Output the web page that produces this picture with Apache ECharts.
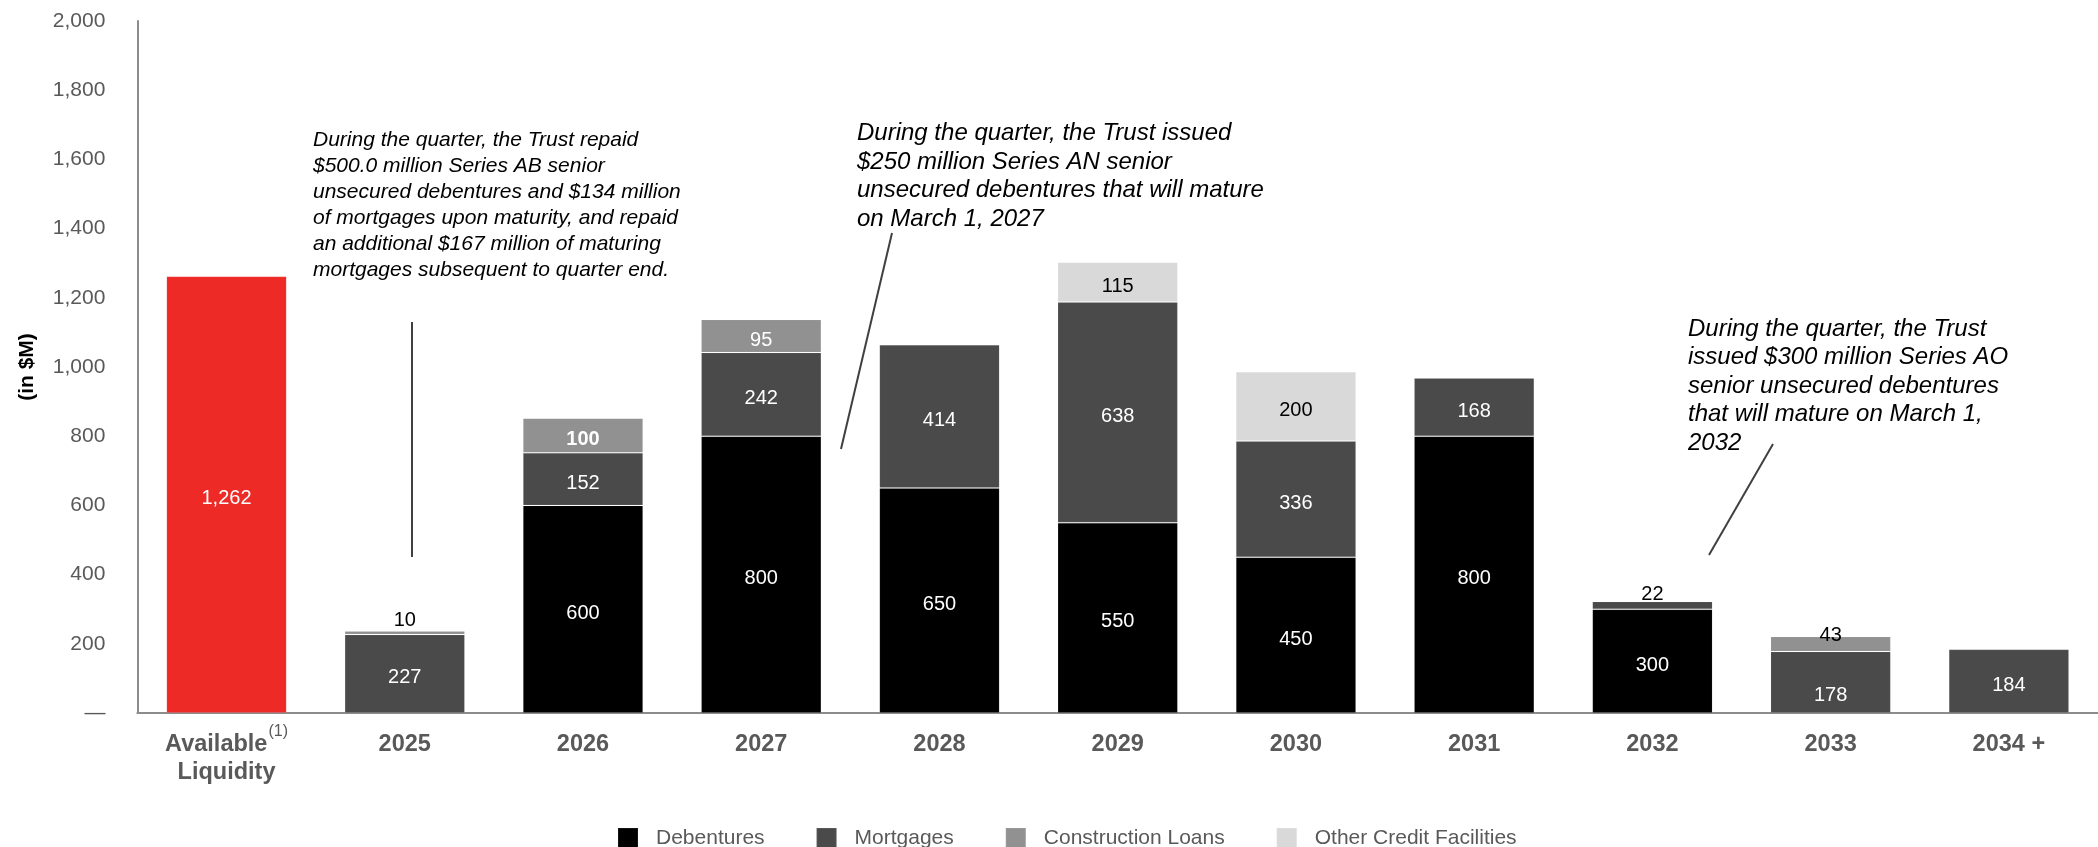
<!DOCTYPE html>
<html>
<head>
<meta charset="utf-8">
<script src="https://cdn.jsdelivr.net/npm/echarts@6/dist/echarts.min.js"></script>
<style>
  html, body { margin: 0; padding: 0; background: #ffffff; }
  #chart { width: 2098px; height: 847px; }
</style>
</head>
<body>
<div id="chart"></div>
<script>
// Debt maturity ladder (in $M)
const categories = ['Available Liquidity', '2025', '2026', '2027', '2028', '2029', '2030', '2031', '2032', '2033', '2034 +'];
const liquidity     = [1262, null, null, null, null, null, null, null, null, null, null];
const debentures    = [null, null, 600, 800, 650, 550, 450, 800, 300, null, null];
const mortgages     = [null, 227, 152, 242, 414, 638, 336, 168, 22, 178, 184];
const construction  = [null, 10, 100, 95, null, null, null, null, null, 43, null];
const otherCredit   = [null, null, null, null, null, 115, 200, null, null, null, null];
const yTicks = [0, 200, 400, 600, 800, 1000, 1200, 1400, 1600, 1800, 2000];

const FONT = '"Liberation Sans", Arial, sans-serif';
const GREY_TEXT = '#595959';

const fmt = v => v.toLocaleString('en-US');

// per-point label tweaks for small segments sitting at the top of a bar
const labelOverrides = {
  mortgages: {
    8: { position: 'top', distance: 1, color: '#000000' },
    9: { offset: [0, 13] },
    10: { offset: [0, 4] }
  },
  construction: {
    1: { position: 'top', distance: 5, color: '#000000' },
    2: { fontWeight: 'bold' },
    9: { position: 'top', distance: -5, color: '#000000' }
  }
};

function toItems(values, overrides) {
  return values.map((v, i) => {
    if (v == null) return null;
    const item = { value: v };
    if (overrides && overrides[i]) item.label = overrides[i];
    return item;
  });
}

function barSeries(name, values, color, labelColor, overrides) {
  return {
    name: name,
    type: 'bar',
    stack: 'total',
    barWidth: '67.5%',
    data: toItems(values, overrides),
    itemStyle: { color: color, borderColor: 'rgba(255,255,255,0.08)', borderWidth: 1 },
    label: {
      show: true,
      position: 'inside',
      color: labelColor,
      fontFamily: FONT,
      fontSize: 20,
      offset: [0, 4],
      formatter: p => fmt(p.value)
    },
    emphasis: { disabled: true }
  };
}

const chart = echarts.init(document.getElementById('chart'), null, { renderer: 'canvas' });

chart.setOption({
  animation: false,
  backgroundColor: '#ffffff',
  textStyle: { fontFamily: FONT },
  grid: { left: 137.4, right: -21.4, top: 21, bottom: 134, containLabel: false },
  legend: {
    data: ['Debentures', 'Mortgages', 'Construction Loans', 'Other Credit Facilities'],
    left: 612,
    top: 822,
    itemWidth: 20,
    itemHeight: 20,
    itemGap: 51,
    icon: 'rect',
    selectedMode: false,
    textStyle: { color: GREY_TEXT, fontSize: 21, fontFamily: FONT, padding: [0, 0, 0, 13] }
  },
  xAxis: {
    type: 'category',
    data: categories,
    axisLine: { show: true, lineStyle: { color: '#8c8c8c', width: 2 } },
    axisTick: { show: false },
    axisLabel: {
      interval: 0,
      margin: 18,
      formatter: (v, i) => i === 0
        ? '{b|Available}{sup|(1)}\n{b|Liquidity}'
        : '{b|' + v + '}',
      rich: {
        b: { fontFamily: FONT, fontSize: 23.5, fontWeight: 'bold', color: GREY_TEXT, lineHeight: 28 },
        sup: { fontFamily: FONT, fontSize: 16, color: GREY_TEXT, verticalAlign: 'bottom', lineHeight: 8, padding: [0, 0, 19, 1] }
      }
    }
  },
  yAxis: {
    type: 'value',
    min: yTicks[0],
    max: yTicks[yTicks.length - 1],
    interval: yTicks[1] - yTicks[0],
    name: '(in $M)',
    nameLocation: 'middle',
    nameRotate: 90,
    nameGap: 100,
    nameTextStyle: { fontFamily: FONT, fontSize: 21, fontWeight: 'bold', color: '#000000' },
    splitLine: { show: false },
    axisTick: { show: false },
    axisLine: { show: true, lineStyle: { color: '#8c8c8c', width: 2 } },
    axisLabel: {
      margin: 32,
      fontSize: 21,
      fontFamily: FONT,
      color: GREY_TEXT,
      formatter: v => v === 0 ? '—' : fmt(v)
    }
  },
  series: [
    Object.assign(barSeries('Available Liquidity', liquidity, '#ee2a27', '#ffffff'), { legendHoverLink: false }),
    barSeries('Debentures', debentures, '#000000', '#ffffff'),
    barSeries('Mortgages', mortgages, '#4a4a4a', '#ffffff', labelOverrides.mortgages),
    barSeries('Construction Loans', construction, '#919191', '#ffffff', labelOverrides.construction),
    barSeries('Other Credit Facilities', otherCredit, '#d9d9d9', '#000000')
  ],
  graphic: [
    {
      type: 'text', x: 313, y: 127, silent: true,
      style: {
        text: 'During the quarter, the Trust repaid\n$500.0 million Series AB senior\nunsecured debentures and $134 million\nof mortgages upon maturity, and repaid\nan additional $167 million of maturing\nmortgages subsequent to quarter end.',
        font: 'italic 21px ' + FONT, fill: '#000000', lineHeight: 26
      }
    },
    { type: 'line', silent: true, shape: { x1: 412, y1: 322, x2: 412, y2: 557 }, style: { stroke: '#404040', lineWidth: 2 } },
    {
      type: 'text', x: 857, y: 119, silent: true,
      style: {
        text: 'During the quarter, the Trust issued\n$250 million Series AN senior\nunsecured debentures that will mature\non March 1, 2027',
        font: 'italic 24px ' + FONT, fill: '#000000', lineHeight: 28.6
      }
    },
    { type: 'line', silent: true, shape: { x1: 892, y1: 233, x2: 841, y2: 449 }, style: { stroke: '#404040', lineWidth: 2 } },
    {
      type: 'text', x: 1688, y: 315, silent: true,
      style: {
        text: 'During the quarter, the Trust\nissued $300 million Series AO\nsenior unsecured debentures\nthat will mature on March 1,\n2032',
        font: 'italic 24px ' + FONT, fill: '#000000', lineHeight: 28.5
      }
    },
    { type: 'line', silent: true, shape: { x1: 1773, y1: 444, x2: 1709, y2: 555 }, style: { stroke: '#404040', lineWidth: 2 } }
  ]
});
</script>
</body>
</html>
